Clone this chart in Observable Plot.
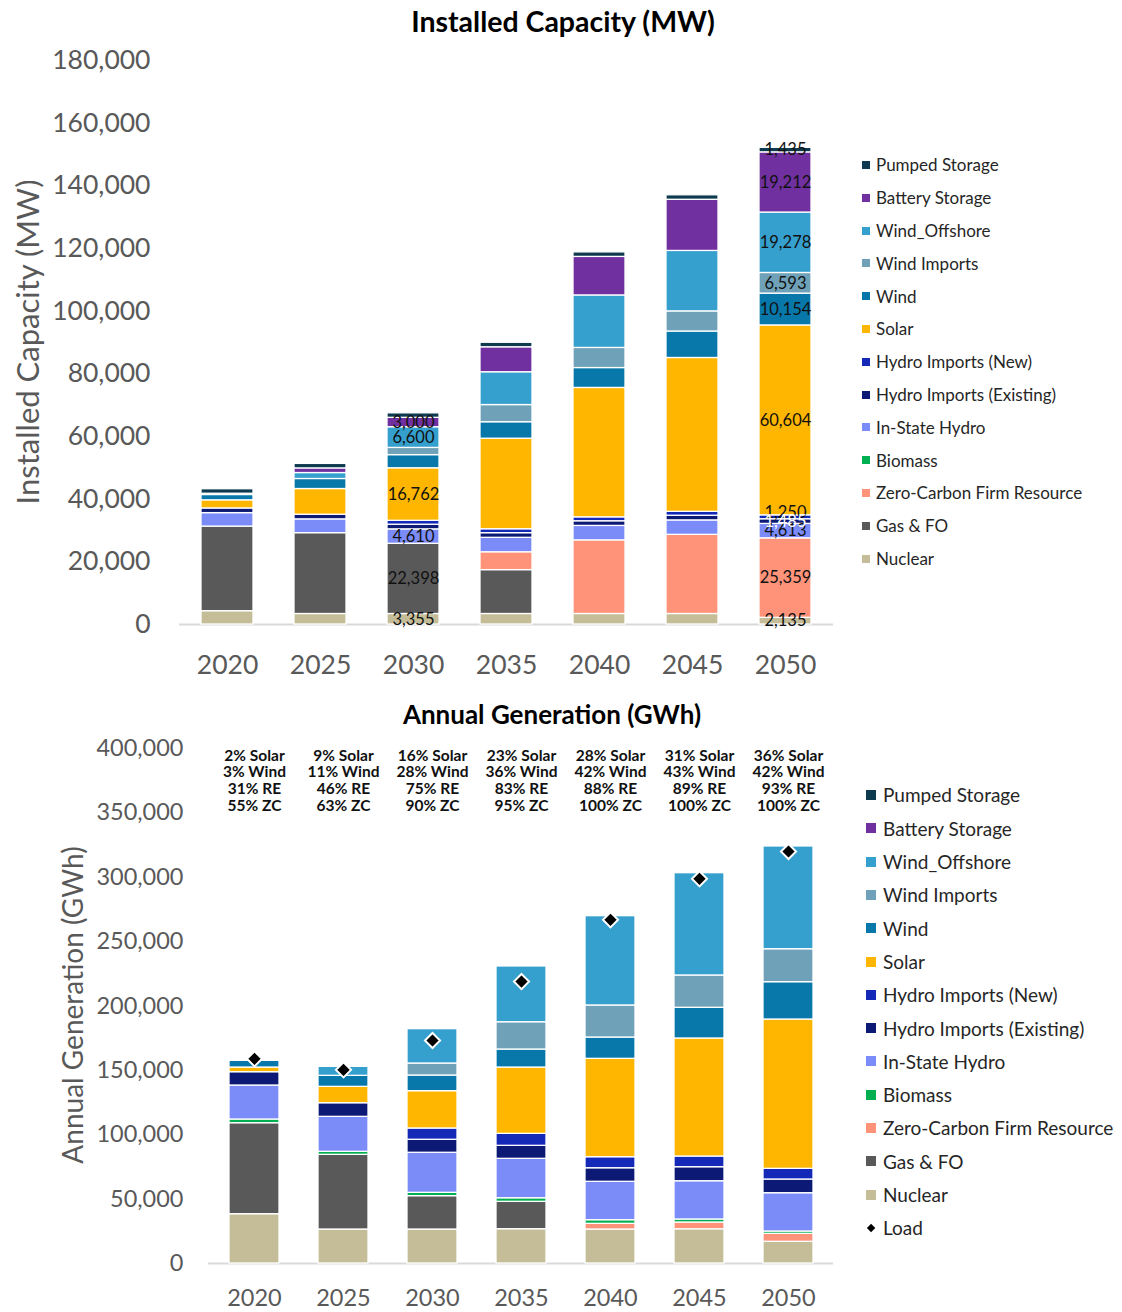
<!DOCTYPE html>
<html><head><meta charset="utf-8">
<script src="https://cdn.jsdelivr.net/npm/d3@7"></script>
<script src="https://cdn.jsdelivr.net/npm/@observablehq/plot@0.6"></script>
<style>
body{margin:0;background:#fff;font-family:Lato,"Open Sans",sans-serif;}
#page{position:relative;width:1122px;height:1312px;overflow:hidden;background:#fff;}
.abs{position:absolute;}
.title{font-weight:700;color:#000;white-space:nowrap;transform:translate(-50%,-50%);}
.ytitle{color:#595959;white-space:nowrap;transform:translate(-50%,-50%) rotate(-90deg);}
.item{position:absolute;display:flex;align-items:center;white-space:nowrap;color:#262626;}
svg{overflow:visible;}
</style></head><body>
<div id="page">
  <div class="abs title" style="left:563px;top:21px;font-size:28.5px;">Installed Capacity (MW)</div>
  <div class="abs title" style="left:552px;top:714px;font-size:26px;">Annual Generation (GWh)</div>
  <div class="abs ytitle" style="left:27px;top:342px;font-size:31px;">Installed Capacity (MW)</div>
  <div class="abs ytitle" style="left:72px;top:1005px;font-size:28px;">Annual Generation (GWh)</div>
  <div id="topChart" class="abs" style="left:0;top:0;"></div>
  <div id="botChart" class="abs" style="left:0;top:700px;"></div>
  <div id="topLegend"></div>
  <div id="botLegend"></div>
</div>
<script>
// ---------- data ----------
const years = ["2020","2025","2030","2035","2040","2045","2050"];
const series = ["Nuclear","Gas & FO","Zero-Carbon Firm Resource","Biomass","In-State Hydro","Hydro Imports (Existing)","Hydro Imports (New)","Solar","Wind","Wind Imports","Wind_Offshore","Battery Storage","Pumped Storage"];
const colors = ["#c4bd97","#595959","#ff937a","#00b050","#7b8cf9","#0c1a75","#1529b8","#ffb600","#0878aa","#6fa2b8","#359fcd","#7030a0","#0d3a4f"];

// Installed capacity (MW)
const capNuclear       = [4250, 3355, 3355, 3355, 3355, 3355, 2135];
const capGas           = [27000, 25800, 22398, 14000, 0, 0, 0];
const capZCFR          = [0, 0, 0, 5700, 23500, 25260, 25359];
const capBiomass       = [0, 0, 0, 0, 0, 0, 0];
const capInState       = [4300, 4400, 4610, 4610, 4610, 4610, 4613];
const capHydroExisting = [1485, 1485, 1485, 1485, 1485, 1485, 1485];
const capHydroNew      = [0, 0, 1250, 1250, 1250, 1250, 1250];
const capSolar         = [2600, 8200, 16762, 28900, 41300, 49100, 60604];
const capWind          = [1700, 3200, 4200, 5260, 6350, 8450, 10154];
const capWindImports   = [0, 0, 2300, 5480, 6420, 6420, 6593];
const capOffshore      = [0, 1900, 6600, 10470, 16750, 19300, 19278];
const capBattery       = [400, 1480, 3000, 7970, 12300, 16320, 19212];
const capPumped        = [1435, 1435, 1435, 1435, 1435, 1435, 1435];

// Annual generation (GWh)
const genNuclear       = [38300, 26400, 26400, 26650, 26400, 26600, 16850];
const genGas           = [70670, 58000, 25900, 21250, 0, 0, 0];
const genZCFR          = [0, 0, 0, 0, 4400, 5250, 6200];
const genBiomass       = [2870, 2350, 2600, 2800, 2850, 2350, 1800];
const genInState       = [26400, 27150, 31100, 30600, 29800, 29700, 29750];
const genHydroExisting = [10350, 10600, 10100, 10100, 10550, 10900, 10640];
const genHydroNew      = [0, 0, 8760, 9300, 8570, 8300, 8290];
const genSolar         = [3630, 12700, 29000, 51500, 76400, 91660, 115970];
const genWind          = [5170, 8550, 12160, 14000, 16550, 23840, 29000];
const genWindImports   = [0, 0, 9320, 21200, 24900, 25100, 25600];
const genOffshore      = [0, 7000, 26660, 43300, 69350, 79450, 79800];
const genBattery       = [0, 0, 0, 0, 0, 0, 0];
const genPumped        = [0, 0, 0, 0, 0, 0, 0];
const load             = [159000, 150400, 173200, 219000, 266950, 298800, 320000];

// Annotation lines above generation bars
const solarShare = ["2% Solar","9% Solar","16% Solar","23% Solar","28% Solar","31% Solar","36% Solar"];
const windShare  = ["3% Wind","11% Wind","28% Wind","36% Wind","42% Wind","43% Wind","42% Wind"];
const reShare    = ["31% RE","46% RE","75% RE","83% RE","88% RE","89% RE","93% RE"];
const zcShare    = ["55% ZC","63% ZC","90% ZC","95% ZC","100% ZC","100% ZC","100% ZC"];

// Which capacity segments carry value labels
const labelled = {
  "2030": ["Nuclear","Gas & FO","In-State Hydro","Solar","Wind_Offshore","Battery Storage"],
  "2050": ["Nuclear","Zero-Carbon Firm Resource","In-State Hydro","Hydro Imports (Existing)","Hydro Imports (New)","Solar","Wind","Wind Imports","Wind_Offshore","Battery Storage","Pumped Storage"]
};

// ---------- build tables ----------
const capSeries = [capNuclear,capGas,capZCFR,capBiomass,capInState,capHydroExisting,capHydroNew,capSolar,capWind,capWindImports,capOffshore,capBattery,capPumped];
const genSeries = [genNuclear,genGas,genZCFR,genBiomass,genInState,genHydroExisting,genHydroNew,genSolar,genWind,genWindImports,genOffshore,genBattery,genPumped];
function stackRows(vals){
  const rows=[];
  years.forEach((yr,i)=>{
    let acc=0;
    series.forEach((s,k)=>{
      const v=vals[k][i];
      if(v>0) rows.push({year:yr, series:s, y1:acc, y2:acc+v, value:v});
      acc+=v;
    });
  });
  return rows;
}
const capRows = stackRows(capSeries);
const genRows = stackRows(genSeries);
const capLabels = capRows.filter(d => labelled[d.year] && labelled[d.year].includes(d.series));
const loadRows = years.map((y,i)=>({year:y, value:load[i]}));
const annoRows = years.map((y,i)=>({year:y, text:[solarShare[i],windShare[i],reShare[i],zcShare[i]].join("\n")}));
const fmt = d3.format(",");
const isHydroNew = d => d.series === "Hydro Imports (New)";
const isHydroEx = d => d.series === "Hydro Imports (Existing)";

// ---------- top chart ----------
const topPlot = Plot.plot({
  width: 850, height: 700,
  marginTop: 60, marginBottom: 76, marginLeft: 179, marginRight: 17,
  style: {fontFamily: "Lato, 'Open Sans', sans-serif", fontSize: "26.5px", color: "#595959", background: "transparent", overflow: "visible"},
  x: {domain: years, paddingInner: 0.44, paddingOuter: 0.22, label: null, tickSize: 0, tickPadding: 31},
  y: {domain: [0, 180000], ticks: d3.range(0, 180001, 20000), tickFormat: fmt, label: null, tickSize: 0, tickPadding: 29},
  color: {domain: series, range: colors},
  marks: [
    Plot.ruleY([0], {stroke: "#d9d9d9", strokeWidth: 2}),
    Plot.barY(capRows, {x: "year", y1: "y1", y2: "y2", fill: "series", stroke: "white", strokeWidth: 1.3}),
    Plot.text(capLabels.filter(d => !isHydroEx(d) && !isHydroNew(d)), {x: "year", y: d => (d.y1 + d.y2) / 2, text: d => fmt(d.value), fill: "#111", fontSize: 16.5}),
    Plot.text(capLabels.filter(isHydroNew), {x: "year", y: d => (d.y1 + d.y2) / 2, dy: -5, text: d => fmt(d.value), fill: "#111", fontSize: 16.5}),
    Plot.text(capLabels.filter(isHydroEx), {x: "year", y: d => (d.y1 + d.y2) / 2, text: d => fmt(d.value), fill: "white", fontSize: 16.5})
  ]
});
document.getElementById("topChart").appendChild(topPlot);

// ---------- bottom chart ----------
const botPlot = Plot.plot({
  width: 850, height: 612,
  marginTop: 48, marginBottom: 49, marginLeft: 208, marginRight: 17,
  style: {fontFamily: "Lato, 'Open Sans', sans-serif", fontSize: "23.5px", color: "#595959", background: "transparent", overflow: "visible"},
  x: {domain: years, paddingInner: 0.44, paddingOuter: 0.22, label: null, tickSize: 0, tickPadding: 26},
  y: {domain: [0, 400000], ticks: d3.range(0, 400001, 50000), tickFormat: fmt, label: null, tickSize: 0, tickPadding: 25},
  color: {domain: series, range: colors},
  marks: [
    Plot.ruleY([0], {stroke: "#d9d9d9", strokeWidth: 2}),
    Plot.barY(genRows, {x: "year", y1: "y1", y2: "y2", fill: "series", stroke: "white", strokeWidth: 1.3}),
    Plot.dot(loadRows, {x: "year", y: "value", symbol: "diamond2", r: 6.8, fill: "black", stroke: "white", strokeWidth: 2}),
    Plot.text(annoRows, {x: "year", y: () => 400000, text: "text", lineAnchor: "top", lineHeight: 1.09, dy: 0, fontWeight: "bold", fontSize: 15.5, fill: "#111"})
  ]
});
document.getElementById("botChart").appendChild(botPlot);

// ---------- legends ----------
function legend(containerId, items, x0, y0, step, sq, fontSize, textX){
  const c = document.getElementById(containerId);
  items.forEach((it,i)=>{
    const cy = y0 + i*step;
    const sw = document.createElement("div");
    sw.className = "abs";
    if(it.diamond){
      const s = sq*0.62;
      sw.style.cssText = `left:${x0 + (sq - s)/2}px;top:${cy - s/2}px;width:${s}px;height:${s}px;background:#000;transform:rotate(45deg);`;
    } else {
      sw.style.cssText = `left:${x0}px;top:${cy - sq/2}px;width:${sq}px;height:${sq}px;background:${it.color};`;
    }
    c.appendChild(sw);
    const t = document.createElement("div");
    t.className = "item";
    t.style.cssText = `left:${textX}px;top:${cy - fontSize*0.7}px;height:${fontSize*1.4}px;font-size:${fontSize}px;`;
    t.textContent = it.name;
    c.appendChild(t);
  });
}
const legendItems = series.map((s,i)=>({name:s, color:colors[i]})).reverse();
legend("topLegend", legendItems, 862, 165, 32.8, 8, 17, 876);
legend("botLegend", legendItems.concat([{name:"Load", diamond:true}]), 866, 795, 33.3, 10, 19, 883);
</script>
</body></html>
